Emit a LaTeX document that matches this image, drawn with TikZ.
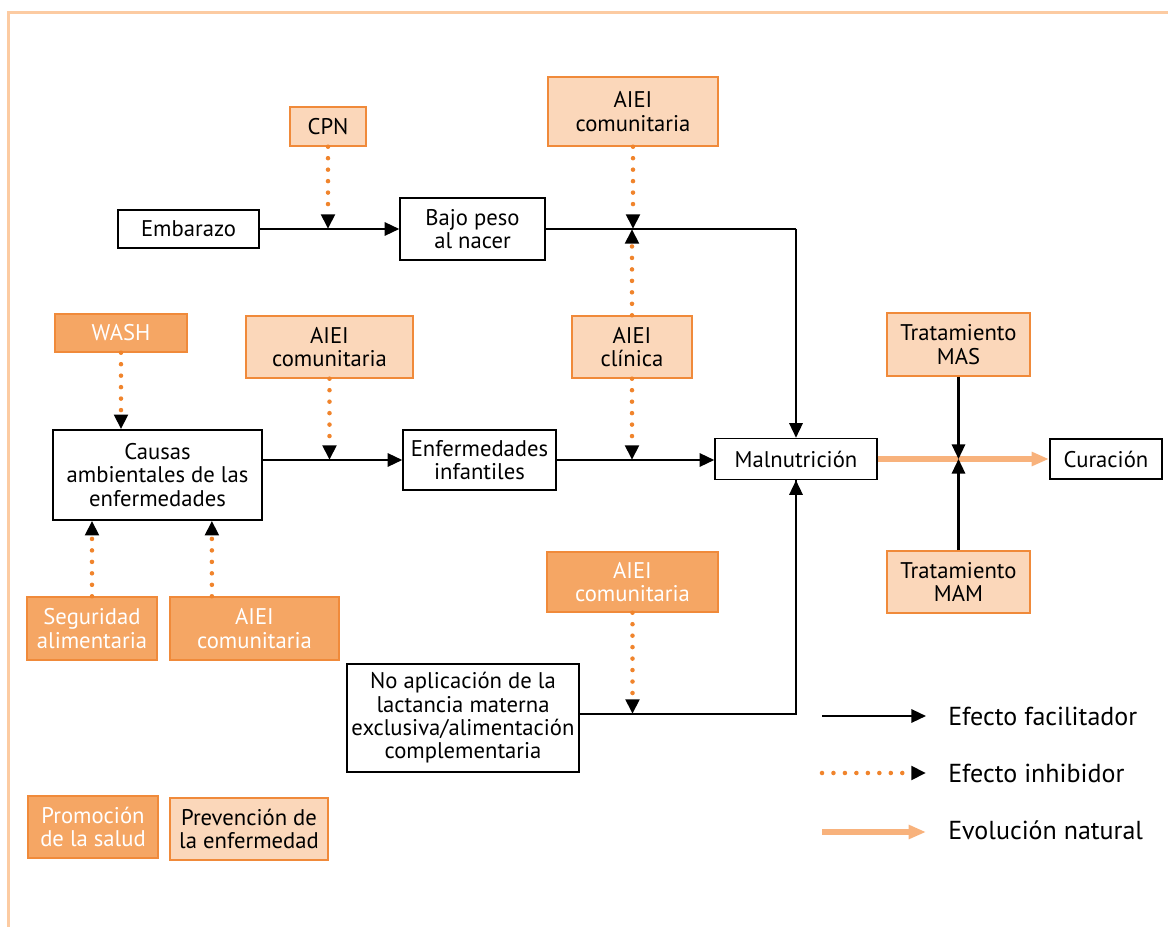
\documentclass[tikz,border=0pt]{standalone}
\usepackage{fontspec}
\setmainfont{PT Sans}
\usetikzlibrary{arrows.meta,calc}
\definecolor{dk}{HTML}{F5A664}
\definecolor{lt}{HTML}{FBD7BA}
\definecolor{ob}{HTML}{F08A3A}
\definecolor{dotc}{HTML}{F0842C}
\definecolor{pea}{HTML}{F8B27C}
\definecolor{frm}{HTML}{FCCBA2}
\begin{document}
\begin{tikzpicture}[x=0.75pt,y=-0.75pt,
 wbox/.style={draw=black, line width=1.1pt, fill=white, align=center, inner sep=0pt,
   font=\fontsize{17}{17.5}\selectfont},
 lbox/.style={wbox, draw=ob, fill=lt},
 dbox/.style={wbox, draw=ob, fill=dk, text=white},
 fac/.style={line width=1.7pt, -{Triangle[length=11pt,width=10pt]}},
 inh/.style={dotc, line width=3.4pt, line cap=round, dash pattern=on 0pt off 8.6pt,
   -{Triangle[length=11pt,width=10pt,color=black]}},
 nat/.style={pea, line width=3.8pt, -{Triangle[length=13pt,width=10pt]}},
 lbl/.style={anchor=west, inner sep=0pt, font=\fontsize{19.5}{20}\selectfont}]
\useasboundingbox (0,0) rectangle (1168,927);
\draw[frm, line width=2.2pt] (8.5,927) -- (8.5,12.5) -- (1168,12.5);

% nodes
\node[wbox, minimum width=141*0.75pt, minimum height=38*0.75pt] (emb) at (188.5,229) {Embarazo};
\node[lbox, minimum width=76*0.75pt, minimum height=39*0.75pt] (cpn) at (328,126.5) {CPN};
\node[wbox, minimum width=145*0.75pt, minimum height=62*0.75pt] (bajo) at (472.5,229) {Bajo peso\\al nacer};
\node[lbox, minimum width=170*0.75pt, minimum height=69*0.75pt] (aiei1) at (633,111.5) {AIEI\\comunitaria};
\node[dbox, minimum width=132*0.75pt, minimum height=38*0.75pt] (wash) at (121,333) {WASH};
\node[lbox, minimum width=167*0.75pt, minimum height=62*0.75pt] (aiei2) at (329.5,347) {AIEI\\comunitaria};
\node[lbox, minimum width=120*0.75pt, minimum height=62*0.75pt] (clin) at (632,347) {AIEI\\clínica};
\node[lbox, minimum width=143*0.75pt, minimum height=63*0.75pt] (mas) at (958.5,344.5) {Tratamiento\\MAS};
\node[wbox, minimum width=209*0.75pt, minimum height=90*0.75pt] (causas) at (157.5,475) {Causas\\ambientales de las\\enfermedades};
\node[wbox, minimum width=153*0.75pt, minimum height=60*0.75pt] (enf) at (479.5,460) {Enfermedades\\infantiles};
\node[wbox, minimum width=162*0.75pt, minimum height=41*0.75pt] (mal) at (796,459) {Malnutrición};
\node[wbox, line width=1.5pt, minimum width=112*0.75pt, minimum height=40*0.75pt] (cur) at (1106,459) {Curación};
\node[lbox, minimum width=143*0.75pt, minimum height=62*0.75pt] (mam) at (958.5,582) {Tratamiento\\MAM};
\node[dbox, minimum width=171*0.75pt, minimum height=60*0.75pt] (aiei4) at (632.5,582) {AIEI\\comunitaria};
\node[dbox, minimum width=130*0.75pt, minimum height=63*0.75pt] (seg) at (92,628.5) {Seguridad\\alimentaria};
\node[dbox, minimum width=169*0.75pt, minimum height=63*0.75pt] (aiei5) at (254.5,628.5) {AIEI\\comunitaria};
\node[wbox, minimum width=232*0.75pt, minimum height=108*0.75pt] (noap) at (463,718) {No aplicación de la\\lactancia materna\\exclusiva/alimentación\\complementaria};
\node[dbox, minimum width=130*0.75pt, minimum height=62*0.75pt] (prom) at (93,827) {Promoción\\de la salud};
\node[lbox, minimum width=158*0.75pt, minimum height=62*0.75pt] (prev) at (249,829) {Prevención de\\la enfermedad};

% facilitating connectors
\draw[fac] (emb) -- (bajo);
\coordinate (c1) at (bajo.east -| mal.north);
\draw[line width=0.8pt] (bajo.east) -- (c1);
\draw[fac] (c1) -- (mal.north);
\draw[fac] (causas.east |- enf.west) -- (enf.west);
\draw[fac] (enf.east) -- (enf.east -| mal.west);
\draw[line width=1.3pt] (noap.east |- 0,714) -| (mal.south);
\draw[fac] (mal.south |- 0,714) -- (mal.south);
\draw[nat] (mal.east) -- (cur.west);
\coordinate (jm) at (mas.south |- mal.east);
\draw[fac] (mas.south) -- (jm);
\draw[fac] (mam.north) -- (jm);

% inhibiting connectors
\draw[inh] (cpn.south) -- (cpn.south |- emb.east);
\draw[inh] (aiei1.south) -- (aiei1.south |- bajo.east);
\draw[inh] (clin.north) -- (clin.north |- bajo.east);
\draw[inh] (clin.south) -- (clin.south |- enf.east);
\draw[inh] (aiei2.south) -- (aiei2.south |- enf.west);
\draw[inh] (wash.south) -- (wash.south |- causas.north);
\draw[inh] (seg.north) -- (seg.north |- causas.south);
\coordinate (a5t) at ($(aiei5.north west)!0.25!(aiei5.north east)$);
\draw[inh] (a5t) -- (a5t |- causas.south);
\draw[inh] (aiei4.south) -- (aiei4.south |- 0,714);

% legend
\coordinate (l1a) at (822,716); \coordinate (l1b) at (926,716);
\coordinate (l2a) at (822,773); \coordinate (l2b) at (926,773);
\coordinate (l3a) at (822,832); \coordinate (l3b) at (926,832);
\draw[fac] (l1a) -- (l1b);
\draw[inh] (l2a) -- (l2b);
\draw[nat] (l3a) -- (l3b);
\node[lbl] (t1) at (948,716) {Efecto facilitador};
\node[lbl] (t2) at (948,773) {Efecto inhibidor};
\node[lbl] (t3) at (948,830) {Evolución natural};
\end{tikzpicture}
\end{document}
